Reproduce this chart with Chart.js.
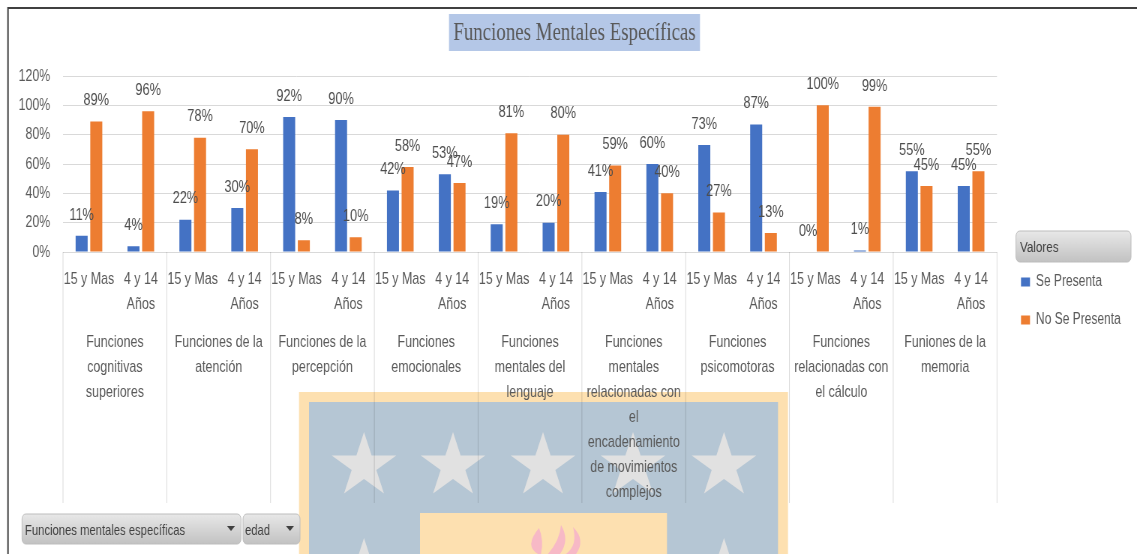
<!DOCTYPE html>
<html><head><meta charset="utf-8">
<style>html,body{margin:0;padding:0;background:#fff;overflow:hidden}#w{position:relative;width:1137px;height:554px;overflow:hidden}
#c{position:absolute;left:0;top:0;transform-origin:0 0;transform:scaleX(0.75)}</style>
<script src="https://cdn.jsdelivr.net/npm/chart.js@4"></script>
</head><body><div id="w"><canvas id="c"></canvas></div>
<script>
const ageLabels = ["15 y Mas",["4 y 14","Años"],"15 y Mas",["4 y 14","Años"],"15 y Mas",["4 y 14","Años"],"15 y Mas",["4 y 14","Años"],"15 y Mas",["4 y 14","Años"],"15 y Mas",["4 y 14","Años"],"15 y Mas",["4 y 14","Años"],"15 y Mas",["4 y 14","Años"],"15 y Mas",["4 y 14","Años"]];
const groupLabels = [
  ["Funciones","cognitivas","superiores"],
  ["Funciones de la","atención"],
  ["Funciones de la","percepción"],
  ["Funciones","emocionales"],
  ["Funciones","mentales del","lenguaje"],
  ["Funciones","mentales","relacionadas con","el","encadenamiento","de movimientos","complejos"],
  ["Funciones","psicomotoras"],
  ["Funciones","relacionadas con","el cálculo"],
  ["Funiones de la","memoria"]
];
const sePresenta = [11,4,22,30,92,90,42,53,19,20,41,60,73,87,0,1,55,45];
const noSePresenta = [89,96,78,70,8,10,58,47,81,80,59,40,27,13,100,99,45,55];
const titleText = "Funciones Mentales Específicas";
const legendTitle = "Valores";
const filterLabels = ["Funciones mentales específicas","edad"];

const SX = 0.75;              // the reference's text is horizontally squeezed
const X = v => v / SX;        // screen x to canvas x
const FONT = "'Liberation Sans',sans-serif";
const TXT = "#595959";
const cv = document.getElementById("c");
cv.width = Math.round(1137 / SX); cv.height = 554;

function star(ctx,cx,cy,r){
  ctx.beginPath();
  for(let i=0;i<10;i++){
    const a=-Math.PI/2+i*Math.PI/5, q=i%2?r*0.382:r;
    ctx.lineTo(X(cx+q*Math.cos(a)),cy+q*Math.sin(a));
  }
  ctx.closePath();ctx.fill();
}
function rect(c,x,y,w,h){c.fillRect(X(x),y,X(w),h);}
function pill(ctx,x,y,w,h,r){
  const g=ctx.createLinearGradient(0,y,0,y+h);
  g.addColorStop(0,"#e8e8e8");g.addColorStop(1,"#c2c2c2");
  ctx.fillStyle=g;ctx.strokeStyle="#bdbdbd";ctx.lineWidth=1;
  ctx.beginPath();ctx.roundRect(X(x),y,X(w),h,r);ctx.fill();ctx.stroke();
}
function tri(ctx,cx,cy){
  ctx.fillStyle="#404040";ctx.beginPath();
  ctx.moveTo(X(cx-4),cy-2);ctx.lineTo(X(cx+4),cy-2);ctx.lineTo(X(cx),cy+3);ctx.closePath();ctx.fill();
}
function flame(c,p){
  c.beginPath();c.moveTo(X(p[0]),p[1]);
  c.quadraticCurveTo(X(p[2]),p[3],X(p[4]),p[5]);
  c.quadraticCurveTo(X(p[6]),p[7],X(p[8]),p[9]);
  c.closePath();c.fill();
}
const deco = {
  id:"deco",
  afterLayout(chart){
    const t=chart.titleBlock; t.left=X(449); t.right=X(700);
    const l=chart.legend, pad=22;
    l.left=X(1021)-pad; l.right=X(1137); l.top=274-pad; l.bottom=l.top+130;
  },
  beforeDraw(chart){
    const c=chart.ctx;c.save();
    c.fillStyle="#fde0b0";rect(c,299,392,489,162);
    c.fillStyle="#b5c6d4";rect(c,309,402,469,152);
    c.fillStyle="#e1e1e1";
    [364,453,543,633,724].forEach(x=>star(c,x,466,34));
    [364,724].forEach(x=>star(c,x,572,34));
    c.fillStyle="#fde0b0";rect(c,420,513,247,41);
    c.fillStyle="#f7b9c6";
    flame(c,[538,554,524,546,539,528,544,540,541,554]);
    flame(c,[548,554,560,540,561,525,570,540,560,554]);
    flame(c,[566,554,578,545,573,527,586,540,576,554]);
    c.strokeStyle="#404040";c.lineWidth=2;
    c.beginPath();c.moveTo(X(8),554);c.lineTo(X(8),8);c.lineTo(X(1137),8);c.stroke();
    c.fillStyle="#b4c7e7";rect(c,449,14,251,37);
    pill(c,1016,231,115,31,5);
    pill(c,22,514,219,30,5);
    pill(c,243,514,57,30,5);
    c.fillStyle="#404040";c.textBaseline="middle";c.textAlign="left";
    c.font="15.5px "+FONT;
    c.fillText(legendTitle,X(1020),248);
    c.font="15px "+FONT;
    c.fillText(filterLabels[0],X(25),531);
    c.fillText(filterLabels[1],X(245),531);
    tri(c,231,528);tri(c,290,528);
    c.restore();
  },
  beforeDatasetsDraw(chart){
    const s=chart.scales.x2,c=chart.ctx,n=groupLabels.length;
    c.save();c.strokeStyle="rgba(0,0,0,0.15)";c.lineWidth=1;
    for(let i=0;i<=n;i++){
      const x=s.left+i*s.width/n;
      c.beginPath();c.moveTo(x,chart.chartArea.bottom);c.lineTo(x,s.bottom);c.stroke();
    }
    c.restore();
  },
  afterDatasetsDraw(chart){
    const c=chart.ctx;c.save();
    c.fillStyle="#4d4d4d";c.font="17px "+FONT;c.textAlign="center";c.textBaseline="middle";
    chart.data.datasets.forEach((d,i)=>{
      chart.getDatasetMeta(i).data.forEach((el,j)=>{
        c.fillText(d.data[j]+"%",el.x,el.y-21);
      });
    });
    c.restore();
  }
};
new Chart(cv,{
  type:"bar",
  data:{labels:ageLabels,datasets:[
    {label:"Se Presenta",data:sePresenta,backgroundColor:"#4472c4",xAxisID:"x",yAxisID:"y"},
    {label:"No Se Presenta",data:noSePresenta,backgroundColor:"#ed7d31",xAxisID:"x",yAxisID:"y"}
  ]},
  options:{
    responsive:false,animation:false,
    layout:{padding:{left:X(10),right:X(140),top:0,bottom:51}},
    datasets:{bar:{categoryPercentage:0.565,barPercentage:0.82}},
    plugins:{
      tooltip:{enabled:false},
      title:{display:true,text:titleText,color:"#595959",font:{family:"'Liberation Serif',serif",size:25.2,weight:"normal",lineHeight:1.2},padding:{top:18,bottom:27.8}},
      legend:{display:true,position:"chartArea",align:"start",labels:{
        boxWidth:X(9),boxHeight:9,padding:22,
        color:TXT,font:{family:FONT,size:16}
      }}
    },
    scales:{
      y:{min:0,max:120,
        ticks:{stepSize:20,padding:17,color:TXT,font:{family:FONT,size:16.5},callback:v=>v+"%"},
        grid:{color:"#d9d9d9",drawTicks:false},border:{display:false},
        afterFit(a){a.width=X(53);}
      },
      x:{position:"bottom",offset:true,
        ticks:{autoSkip:false,maxRotation:0,minRotation:0,padding:7,color:TXT,font:{family:FONT,size:16.6,lineHeight:25/16.6}},
        grid:{display:false},border:{display:false},
        afterFit(a){a.height=68;}
      },
      x2:{axis:"x",type:"category",position:"bottom",offset:true,labels:groupLabels,
        ticks:{autoSkip:false,maxRotation:0,minRotation:0,padding:2,color:TXT,font:{family:FONT,size:16.6,lineHeight:25/16.6}},
        grid:{display:false},border:{display:false},
        afterFit(a){a.height=183;}
      }
    }
  },
  plugins:[deco]
});
</script></body></html>
